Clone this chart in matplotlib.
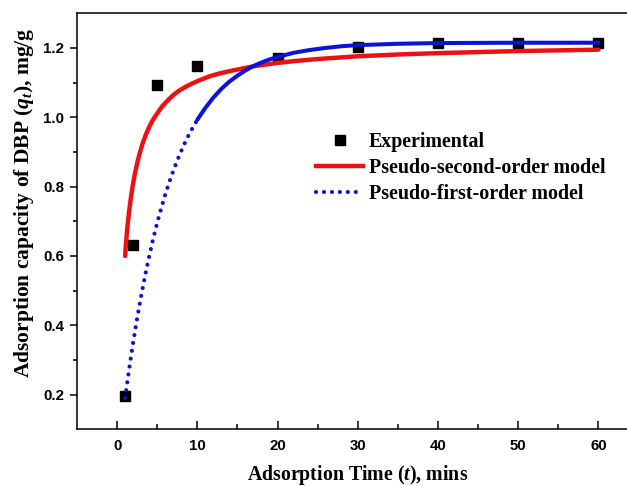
import numpy as np
import matplotlib
matplotlib.use("Agg")
import matplotlib.pyplot as plt
from matplotlib.lines import Line2D

# experimental uptake of DBP
t_exp = [1, 2, 5, 10, 20, 30, 40, 50, 60]
q_exp = [0.195, 0.631, 1.094, 1.148, 1.170, 1.204, 1.214, 1.214, 1.215]

# pseudo-second-order fit
t_pso = [1.0, 1.1, 1.2, 1.33, 1.5, 1.7, 1.9, 2.1, 2.36, 2.6, 2.9, 3.2, 3.6, 4.0,
         4.5, 5.06, 5.6, 6.2, 7.0, 7.8, 8.7, 9.6, 10.5, 11.5, 12.7, 14, 15.5,
         17, 18.5, 20, 22.5, 25, 27.5, 30, 33, 36, 40, 45, 50, 55, 60]
q_pso = [0.600, 0.634, 0.663, 0.694, 0.729, 0.765, 0.796, 0.823, 0.853, 0.877,
         0.903, 0.926, 0.951, 0.972, 0.994, 1.013, 1.031, 1.046, 1.064, 1.078,
         1.090, 1.100, 1.109, 1.118, 1.126, 1.133, 1.140, 1.147, 1.152, 1.157,
         1.163, 1.168, 1.172, 1.176, 1.179, 1.182, 1.185, 1.188, 1.191, 1.193,
         1.195]

# pseudo-first-order fit
t_pfo = [1.0, 1.25, 1.5, 1.75, 2.0, 2.5, 3.0, 3.5, 4.0, 4.5, 5.0, 5.5, 6.0,
         6.5, 7.0, 7.5, 8.0, 8.5, 9.0, 9.5, 10, 11, 12, 13, 14, 15, 16, 17,
         18, 19, 20, 22, 24, 26, 28, 30, 35, 40, 45, 50, 60]
q_pfo = [0.190, 0.233, 0.273, 0.313, 0.350, 0.421, 0.485, 0.545, 0.599, 0.650,
         0.696, 0.738, 0.777, 0.813, 0.845, 0.876, 0.903, 0.929, 0.952, 0.973,
         0.993, 1.027, 1.057, 1.082, 1.103, 1.120, 1.135, 1.148, 1.158, 1.167,
         1.174, 1.186, 1.194, 1.200, 1.205, 1.208, 1.212, 1.214, 1.2146, 1.215,
         1.215]

RED = '#ee1111'
BLUE = '#0a14d8'
DOTS = (0, (0.01, 1.9))

plt.rcParams['mathtext.fontset'] = 'custom'
plt.rcParams['mathtext.rm'] = 'Liberation Serif:bold'
plt.rcParams['mathtext.it'] = 'Liberation Serif:italic:bold'

fig = plt.figure(figsize=(6.27, 4.86), dpi=100)
ax = fig.add_axes([0.1228, 0.1167, 0.8957, 0.856])

ax.plot(t_exp, q_exp, 's', color='black', markersize=7, zorder=3)
ax.plot(t_pso, q_pso, '-', color=RED, lw=3.2, solid_capstyle='round', zorder=4)

# first-order curve: dotted on the steep rise, solid once it flattens
t_pfo = np.array(t_pfo)
q_pfo = np.array(q_pfo)
ax.plot(t_pfo[t_pfo <= 10], q_pfo[t_pfo <= 10], color=BLUE, lw=3.0,
        linestyle=DOTS, dash_capstyle='round', zorder=5)
ax.plot(t_pfo[t_pfo >= 10], q_pfo[t_pfo >= 10], '-', color=BLUE, lw=2.9,
        solid_capstyle='round', zorder=5)

ax.set_xlim(-5, 65)
ax.set_ylim(0.1, 1.3)
ax.set_xticks([0, 10, 20, 30, 40, 50, 60])
ax.set_xticks(np.arange(5, 65, 10), minor=True)
ax.set_yticks([0.2, 0.4, 0.6, 0.8, 1.0, 1.2])
ax.set_yticks([0.3, 0.5, 0.7, 0.9, 1.1], minor=True)
ax.set_yticklabels(['0.2', '0.4', '0.6', '0.8', '1.0', '1.2'])

ax.tick_params(axis='x', which='major', direction='in', length=6, width=1.1)
ax.tick_params(axis='x', which='minor', direction='in', length=3.5, width=1.1)
ax.tick_params(axis='y', which='major', direction='out', length=5, width=1.1)
ax.tick_params(axis='y', which='minor', direction='out', length=3, width=1.1)
for lab in ax.get_xticklabels() + ax.get_yticklabels():
    lab.set_fontfamily('Liberation Sans')
    lab.set_fontweight('bold')
    lab.set_fontsize(10.8)
ax.tick_params(axis='x', pad=7)
ax.tick_params(axis='y', pad=4)

for s in ax.spines.values():
    s.set_linewidth(1.1)

ax.set_xlabel('Adsorption Time ($t$), mins', fontfamily='Liberation Serif',
              fontweight='bold', fontsize=14.3)
ax.set_ylabel('Adsorption capacity of DBP ($q_t$), mg/g', fontfamily='Liberation Serif',
              fontweight='bold', fontsize=15.5)
ax.xaxis.set_label_coords(0.5, -0.08)
ax.yaxis.set_label_coords(-0.073, 0.544)

handles = [
    Line2D([], [], marker='s', color='black', linestyle='none', markersize=7),
    Line2D([], [], color=RED, lw=3.2),
    Line2D([], [], color=BLUE, lw=3.0, linestyle=DOTS, dash_capstyle='round'),
]
labels = ['Experimental', 'Pseudo-second-order model', 'Pseudo-first-order model']
ax.legend(handles, labels, loc='upper left', bbox_to_anchor=(316 / 627, 1 - 132 / 486),
          bbox_transform=fig.transFigure, frameon=False, handlelength=2.35,
          handletextpad=0.3, labelspacing=0.3, borderpad=0, borderaxespad=0,
          prop={'family': 'Liberation Serif', 'weight': 'bold', 'size': 14.4})

fig.savefig('out.png', dpi=100)
